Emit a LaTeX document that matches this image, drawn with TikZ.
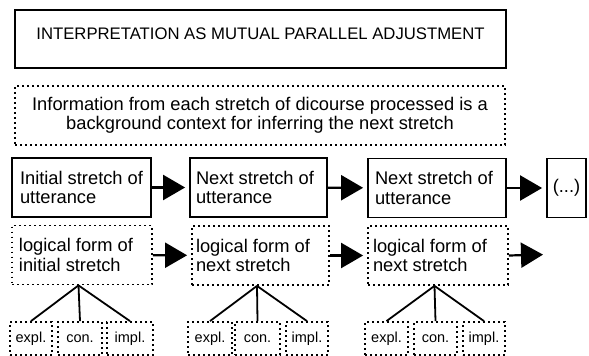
\documentclass[tikz,border=0pt]{standalone}
\usepackage{fontspec}
\setmainfont{Liberation Sans}
\usetikzlibrary{arrows.meta}
\begin{document}
\begin{tikzpicture}[x=1pt,y=-1pt,
  mainfont/.style={font=\fontsize{18.3}{19.5}\selectfont},
  solidbox/.style={draw, line width=1.8pt, rectangle, inner sep=0pt, align=left, mainfont},
  dotbox/.style={draw, line width=1.8pt, dash pattern=on 1.8pt off 3.2pt, rectangle, inner sep=0pt, align=left, mainfont},
  leftbox/.style 2 args={inner xsep=#2, text width=#1-2*#2, minimum width=#1, align=flush left},
  smallbox/.style={dotbox, minimum height=33pt, font=\fontsize{14.5}{16}\selectfont},
  arr/.style={line width=2.2pt, -{Triangle[length=22pt,width=25pt]}, shorten >=4pt},
  branch/.style={line width=1.8pt}]
\useasboundingbox (0,0) rectangle (589,356);
% title
\node[solidbox, minimum width=491pt, minimum height=58pt, text height=8pt, text depth=8pt,
      font=\fontsize{16.7}{18}\selectfont] (title) at (260.5,39) {INTERPRETATION AS MUTUAL PARALLEL ADJUSTMENT};
% info
\node[dotbox, align=center, minimum width=490pt, minimum height=59pt] (info) at (260,115.5)
  {Information from each stretch of dicourse processed is a\\background context for inferring the next stretch};
% row 1
\node[solidbox, leftbox={139pt}{8pt}, minimum height=59pt] (b1) at (81.5,187.5) {Initial stretch of\\utterance};
\node[solidbox, leftbox={137pt}{6pt}, minimum height=59pt] (b2) at (258.5,187.5) {Next stretch of\\utterance};
\node[solidbox, leftbox={138pt}{7pt}, minimum height=59pt] (b3) at (437,188) {Next stretch of\\utterance};
\node[solidbox, minimum width=39pt, minimum height=59pt] (b4) at (566.5,188) {(...)};
\draw[arr] (b1) -- (b2);
\draw[arr] (b2) -- (b3);
\draw[arr] (b3) -- (b4);
% row 2
\node[dotbox, leftbox={140pt}{7pt}, minimum height=59pt] (lf1) at (82,255) {logical form of\\initial stretch};
\node[dotbox, leftbox={137pt}{4pt}, minimum height=59pt] (lf2) at (260.5,255.5) {logical form of\\next stretch};
\node[dotbox, leftbox={140pt}{5pt}, minimum height=59pt] (lf3) at (438,255.5) {logical form of\\next stretch};
\coordinate (lfend) at (547,254.5);
\draw[arr] (lf1) -- (lf2);
\draw[arr] (lf2) -- (lf3);
\draw[arr] (lf3.east) -- (lfend);
% small boxes
\node[smallbox, minimum width=42pt] (s11) at (31,338.5) {expl.};
\node[smallbox, minimum width=44pt] (s12) at (80,338.5) {con.};
\node[smallbox, minimum width=46pt] (s13) at (130,338.5) {impl.};
\node[smallbox, minimum width=44pt] (s21) at (210,338.5) {expl.};
\node[smallbox, minimum width=45pt] (s22) at (257.5,338.5) {con.};
\node[smallbox, minimum width=42pt] (s23) at (307,338.5) {impl.};
\node[smallbox, minimum width=43pt] (s31) at (386.5,338.5) {expl.};
\node[smallbox, minimum width=43pt] (s32) at (435.5,338.5) {con.};
\node[smallbox, minimum width=42pt] (s33) at (484,338.5) {impl.};
% branches
\foreach \i in {1,2,3}{
  \draw[branch] ([xshift=-3.5pt]lf\i.south) -- (s\i1.north);
  \draw[branch] ([xshift=-3.5pt]lf\i.south) -- (s\i2.north);
  \draw[branch] ([xshift=-3.5pt]lf\i.south) -- (s\i3.north);
}
\end{tikzpicture}
\end{document}
